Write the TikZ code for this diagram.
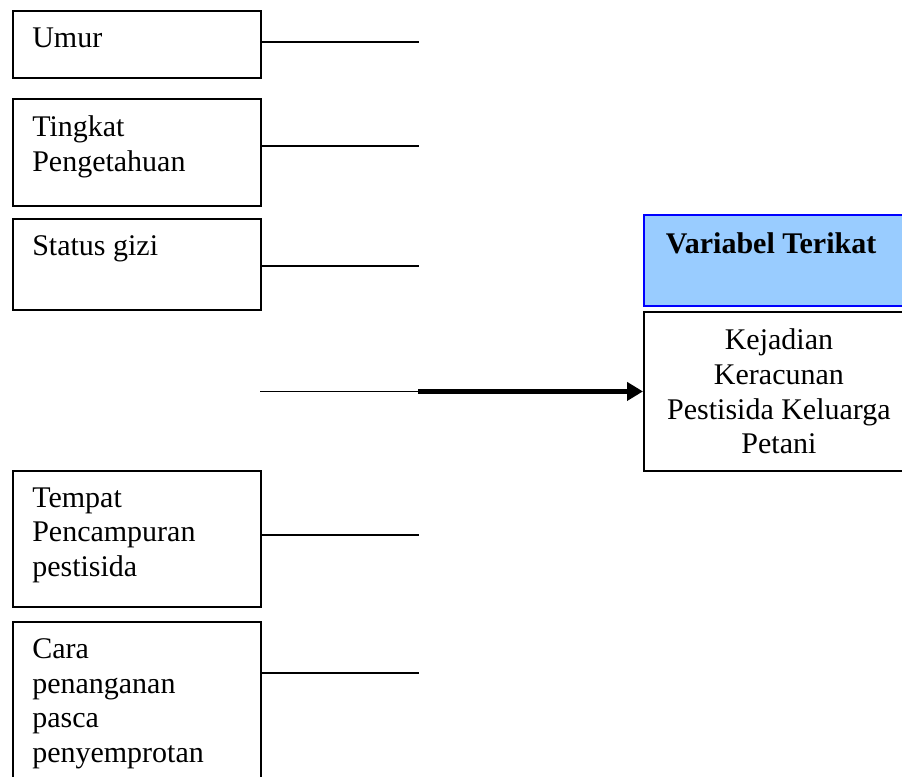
\documentclass[tikz,border=0pt]{standalone}
\usepackage{fontspec}
\setmainfont{Liberation Serif}
\usetikzlibrary{arrows.meta}

\definecolor{HeadFill}{HTML}{99CCFF}
\definecolor{HeadLine}{HTML}{0000FF}

\tikzset{
  varbox/.style={draw, line width=1.4pt, rectangle, anchor=north west, inner sep=0pt, minimum width=186pt},
  vartext/.style={anchor=north west, align=left, inner sep=0pt, xshift=15pt, yshift=-13pt, font=\fontsize{22.5}{26}\selectfont},
  link/.style={line width=1.2pt},
}

\begin{document}
\begin{tikzpicture}[x=0.75pt, y=-0.75pt]

 \useasboundingbox (0,0) rectangle (902,776);
 \clip (0,0) rectangle (902,776);

 %%%%%%%%%% Variabel bebas %%%%%%%%%%
 \node[varbox, minimum height=50.25pt, label={[vartext]north west:Umur}] (umur) at (12,10) {};
 \node[varbox, minimum height=80.25pt, label={[vartext]north west:Tingkat\\Pengetahuan}] (tingkat) at (12,98) {};
 \node[varbox, minimum height=68.25pt, label={[vartext]north west:Status gizi}] (status) at (12,218) {};
 \node[varbox, minimum height=102pt, label={[vartext]north west:Tempat\\Pencampuran\\pestisida}] (tempat) at (12,470) {};
 \node[varbox, minimum height=127.5pt, label={[vartext]north west:Cara\\penanganan\\pasca\\penyemprotan}] (cara) at (12,621) {};

 %%%%%%%%%% Variabel terikat %%%%%%%%%%
 \node[varbox, draw=HeadLine, fill=HeadFill, minimum width=202.5pt, minimum height=68.25pt,
   label={[vartext, xshift=2pt, yshift=-1pt, font=\fontsize{22.5}{26}\selectfont\bfseries]north west:Variabel Terikat}] (head) at (643,214) {};
 \node[varbox, minimum width=202.5pt, minimum height=119.25pt, align=center,
   font=\fontsize{22.5}{26}\selectfont] (target) at (643,311) {Kejadian\\Keracunan\\Pestisida Keluarga\\Petani};

 %%%%%%%%%% Ujung garis %%%%%%%%%%
 \coordinate (e1) at (419,42);
 \coordinate (e2) at (419,146);
 \coordinate (e3) at (419,266);
 \coordinate (e4) at (419,535);
 \coordinate (e5) at (419,673);
 \path (target.west) ++(-383,0) coordinate (a0) ++(158,0) coordinate (a1);

 %%%%%%%%%% Garis %%%%%%%%%%
 \draw[link] (umur.east |- e1) -- (e1);
 \draw[link] (tingkat.east |- e2) -- (e2);
 \draw[link] (status.east |- e3) -- (e3);
 \draw[link] (tempat.east |- e4) -- (e4);
 \draw[link] (cara.east |- e5) -- (e5);

 \draw[link] (a0) -- (a1);
 \draw[line width=3.5pt, -{Triangle[length=12pt, width=13.5pt]}] (a1) -- (target.west);

\end{tikzpicture}
\end{document}
